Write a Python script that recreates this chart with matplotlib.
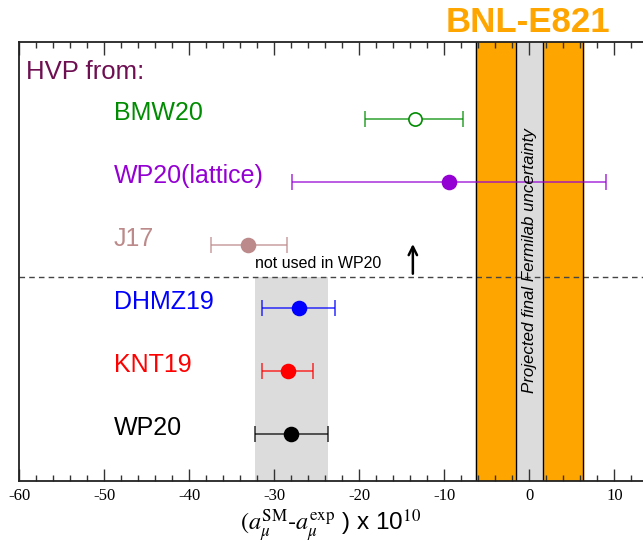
import numpy as np
import matplotlib
matplotlib.use("Agg")
import matplotlib.pyplot as plt
from matplotlib.ticker import MultipleLocator

plt.rcParams['font.family'] = ['Liberation Sans', 'DejaVu Sans']
plt.rcParams['mathtext.fontset'] = 'stix'
plt.rcParams['axes.unicode_minus'] = False

# data (a_mu^SM - a_mu^exp) x 1e10
labels = ['BMW20', 'WP20(lattice)', 'J17', 'DHMZ19', 'KNT19', 'WP20']
centers = [-13.5, -9.45, -33.1, -27.1, -28.4, -28.0]
err_lo = [5.85, 18.5, 4.3, 4.3, 3.0, 4.3]
err_hi = [5.75, 18.45, 4.6, 4.2, 3.0, 4.3]
ypos = [6, 5, 4, 3, 2, 1]
colors = ['#008c00', '#9400d3', '#bc8a8a', '#0000ff', '#ff0000', '#000000']
filled = [False, True, True, True, True, True]

bnl_half = 6.3        # BNL-E821 band half width
fnal_half = 1.6       # projected Fermilab band half width
wp20_band = (-32.3, -23.7)
sep_y = 3.5
arrow_x = -13.7

fig = plt.figure(figsize=(6.43, 5.47), dpi=100)
W, H = 643, 547
x0, x1 = 19.3, 643 + 2
y_top, y_bot = 41.7, 480.7
ax = fig.add_axes([x0 / W, 1 - y_bot / H, (x1 - x0) / W, (y_bot - y_top) / H])

px_per_unit = 8.5
ax.set_xlim(-60, -60 + (x1 - x0) / px_per_unit)
ax.set_ylim(1 - (y_bot - 434) / 63, 1 + (434 - y_top) / 63)

# bands
ax.axvspan(-bnl_half, -fnal_half, color='#ffa500', zorder=1)
ax.axvspan(fnal_half, bnl_half, color='#ffa500', zorder=1)
ax.axvspan(-fnal_half, fnal_half, color='#dcdcdc', zorder=1)
for xv in [-bnl_half, -fnal_half, fnal_half, bnl_half]:
    ax.axvline(xv, color='black', lw=1.0, zorder=2)
ylo, yhi = ax.get_ylim()
ax.axvspan(wp20_band[0], wp20_band[1], ymin=0, ymax=(sep_y - ylo) / (yhi - ylo),
           color='#dcdcdc', zorder=1, lw=0)

ax.axhline(sep_y, color='#444444', ls=(0, (4, 3)), lw=1.0, zorder=1.5)

for lab, c, lo, hi, y, col, fill in zip(labels, centers, err_lo, err_hi, ypos, colors, filled):
    ax.errorbar([c], [y], xerr=[[lo], [hi]], fmt='none', ecolor=col, alpha=0.75,
                elinewidth=1.2, capsize=6, capthick=1.2, zorder=3)
    ax.plot([c], [y], 'o', ms=10 if fill else 9.5, mfc=col if fill else 'white',
            mec=col, mew=1.2, zorder=4)
    ax.text(-48.9, y + 0.1, lab, color=col, fontsize=18, va='center', ha='left')

ax.text(-59.2, 6.75, 'HVP from:', color='#6e0f52', fontsize=18.5, va='center', ha='left')
ax.text(-32.3, 3.7, 'not used in WP20', fontsize=11.5, va='center', ha='left')
ax.annotate('', xy=(arrow_x, 4.06), xytext=(arrow_x, sep_y),
            arrowprops=dict(arrowstyle='->', lw=1.8, color='black', mutation_scale=15))

ax.text(0, 3.75, 'Projected final Fermilab uncertainty', rotation=90, style='italic',
        fontsize=12.2, ha='center', va='center', zorder=5)
fig.text(528 / W, 1 - 22 / H, 'BNL-E821', color='#ffa500', fontsize=25, fontweight='bold',
         ha='center', va='center')

ax.xaxis.set_major_locator(MultipleLocator(10))
ax.xaxis.set_minor_locator(MultipleLocator(2))
ax.tick_params(axis='x', which='major', direction='in', length=9, width=1.0, top=True,
               labelsize=12, pad=5, color='#333333')
ax.tick_params(axis='x', which='minor', direction='in', length=4, width=1.0, top=True,
               color='#333333')
for t in ax.get_xticklabels():
    t.set_fontfamily('Liberation Serif')
ax.set_yticks([])
for s in ax.spines.values():
    s.set_linewidth(1.3)
    s.set_color('#222222')

fig.text(331 / W, 1 - 526 / H,
         r'$(a_\mu^{\rm SM}$-$a_\mu^{\rm exp}$ ) x 10$^{10}$', fontsize=17.5,
         ha='center', va='center')

fig.savefig('out.png', dpi=100)
